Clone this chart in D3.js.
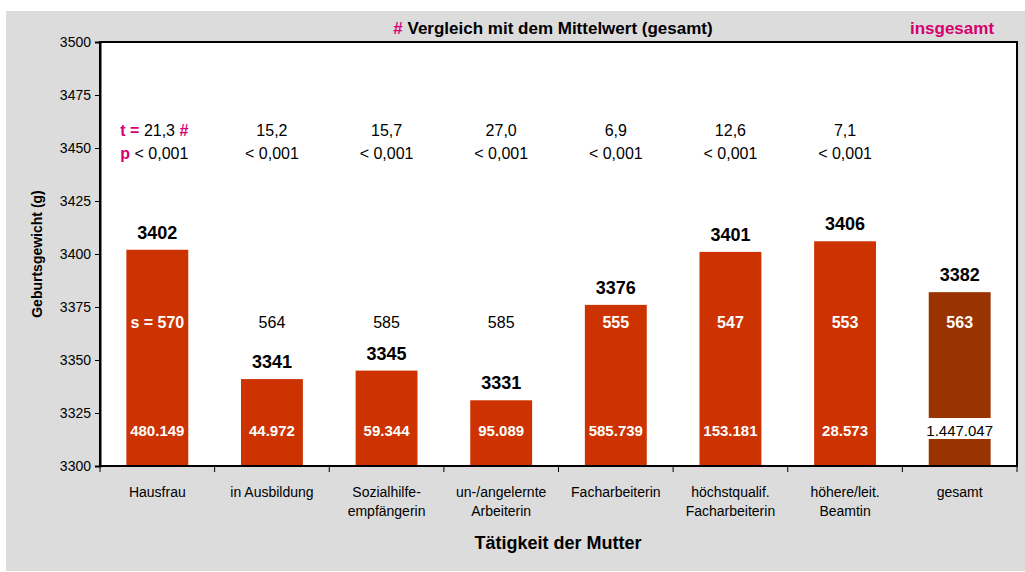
<!DOCTYPE html>
<html>
<head>
<meta charset="utf-8">
<script src="https://cdn.jsdelivr.net/npm/d3@7"></script>
<style>
  body { margin: 0; background: #fff; }
  text { font-family: "Liberation Sans", Arial, sans-serif; }
</style>
</head>
<body>
<div id="chart"></div>
<script>
// Chart data
var categories = [["Hausfrau"], ["in Ausbildung"], ["Sozialhilfe-", "empfängerin"], ["un-/angelernte", "Arbeiterin"],
  ["Facharbeiterin"], ["höchstqualif.", "Facharbeiterin"], ["höhere/leit.", "Beamtin"], ["gesamt"]];
var means = [3402, 3341, 3345, 3331, 3376, 3401, 3406, 3382];
var sds = ["570", "564", "585", "585", "555", "547", "553", "563"];
var counts = ["480.149", "44.972", "59.344", "95.089", "585.739", "153.181", "28.573", "1.447.047"];
var tValues = ["21,3", "15,2", "15,7", "27,0", "6,9", "12,6", "7,1"];
var pValues = ["< 0,001", "< 0,001", "< 0,001", "< 0,001", "< 0,001", "< 0,001", "< 0,001"];
var yTicks = [3300, 3325, 3350, 3375, 3400, 3425, 3450, 3475, 3500];

var svgWidth = 1025;
var svgHeight = 572;
var pink = "#d6006f";

var plot = { left: 100, top: 42, right: 1017, bottom: 466 };

var svg = d3.select("#chart").append("svg")
  .attr("width", svgWidth)
  .attr("height", svgHeight);

// grey background panel
svg.append("rect")
  .attr("x", 6).attr("y", 11)
  .attr("width", svgWidth - 6).attr("height", 560)
  .attr("fill", "#dcdcdc");

// plot area
svg.append("rect")
  .attr("x", plot.left).attr("y", plot.top)
  .attr("width", plot.right - plot.left).attr("height", plot.bottom - plot.top)
  .attr("fill", "#fff")
  .attr("stroke", "#000")
  .attr("stroke-width", 2);

var xScale = d3.scaleBand()
  .domain(d3.range(categories.length))
  .range([plot.left, plot.right])
  .paddingInner(0.46)
  .paddingOuter(0.23);

var yScale = d3.scaleLinear()
  .domain([3300, 3500])
  .range([plot.bottom, plot.top]);

// bars
svg.selectAll("rect.bar")
  .data(means)
  .enter()
  .append("rect")
  .attr("class", "bar")
  .attr("x", (d, i) => xScale(i))
  .attr("y", d => yScale(d))
  .attr("width", xScale.bandwidth())
  .attr("height", d => plot.bottom - yScale(d))
  .attr("fill", (d, i) => i === means.length - 1 ? "#993300" : "#cc3300");

// y axis
var leftAxis = d3.axisLeft(yScale).tickValues(yTicks).tickSize(5).tickPadding(4).tickFormat(d3.format("d"));
var yAxisG = svg.append("g")
  .attr("transform", `translate(${plot.left}, 0)`)
  .call(leftAxis);
yAxisG.select(".domain").attr("stroke-width", 2);
yAxisG.selectAll("text").attr("font-size", 14).attr("fill", "#000")
  .style("font-family", "'Liberation Sans', Arial, sans-serif");

// x axis ticks between categories
var borders = d3.range(categories.length + 1).map(i => plot.left + i * (plot.right - plot.left) / categories.length);
svg.append("line")
  .attr("x1", plot.left).attr("x2", plot.right)
  .attr("y1", plot.bottom).attr("y2", plot.bottom)
  .attr("stroke", "#000").attr("stroke-width", 2);
svg.selectAll("line.xtick")
  .data(borders)
  .enter()
  .append("line")
  .attr("class", "xtick")
  .attr("x1", d => d).attr("x2", d => d)
  .attr("y1", plot.bottom).attr("y2", plot.bottom + 6)
  .attr("stroke", "#000");

var cx = i => xScale(i) + xScale.bandwidth() / 2;

// x category labels
categories.forEach(function(lines, i) {
  lines.forEach(function(line, j) {
    svg.append("text")
      .attr("x", cx(i))
      .attr("y", 497 + j * 19)
      .attr("text-anchor", "middle")
      .attr("font-size", 14)
      .text(line);
  });
});

// mean labels above bars
svg.selectAll("text.mean")
  .data(means)
  .enter()
  .append("text")
  .attr("class", "mean")
  .attr("x", (d, i) => cx(i))
  .attr("y", d => yScale(d) - 11)
  .attr("text-anchor", "middle")
  .attr("font-size", 18)
  .attr("font-weight", "bold")
  .text(d => d);

// standard deviation labels
var sY = 328;
sds.forEach(function(s, i) {
  var inside = yScale(means[i]) < sY - 16;
  svg.append("text")
    .attr("x", cx(i))
    .attr("y", sY)
    .attr("text-anchor", "middle")
    .attr("font-size", 16)
    .attr("font-weight", inside ? "bold" : "normal")
    .attr("fill", inside ? "#fff" : "#000")
    .text(i === 0 ? "s = " + s : s);
});

// counts
var nY = 436;
counts.forEach(function(n, i) {
  var last = i === counts.length - 1;
  if (last) {
    svg.append("rect")
      .attr("x", cx(i) - 35).attr("y", 418)
      .attr("width", 70).attr("height", 21)
      .attr("fill", "#fff");
  }
  svg.append("text")
    .attr("x", cx(i))
    .attr("y", nY)
    .attr("text-anchor", "middle")
    .attr("font-size", 15)
    .attr("font-weight", last ? "normal" : "bold")
    .attr("fill", last ? "#000" : "#fff")
    .text(n);
});

// t and p rows
tValues.forEach(function(t, i) {
  var tText = svg.append("text")
    .attr("y", 136)
    .attr("font-size", 16);
  var pText = svg.append("text")
    .attr("y", 159)
    .attr("font-size", 16);
  if (i === 0) {
    var x0 = cx(i) - 37;
    tText.attr("x", x0);
    tText.append("tspan").attr("fill", pink).attr("font-weight", "bold").text("t = ");
    tText.append("tspan").text(t + " ");
    tText.append("tspan").attr("fill", pink).attr("font-weight", "bold").text("#");
    pText.attr("x", x0);
    pText.append("tspan").attr("fill", pink).attr("font-weight", "bold").text("p ");
    pText.append("tspan").text(pValues[i]);
  } else {
    tText.attr("x", cx(i)).attr("text-anchor", "middle").text(t);
    pText.attr("x", cx(i)).attr("text-anchor", "middle").text(pValues[i]);
  }
});

// header
var title = svg.append("text")
  .attr("x", 553)
  .attr("y", 34)
  .attr("text-anchor", "middle")
  .attr("font-size", 17)
  .attr("font-weight", "bold");
title.append("tspan").attr("fill", pink).text("# ");
title.append("tspan").text("Vergleich mit dem Mittelwert (gesamt)");

svg.append("text")
  .attr("x", 952)
  .attr("y", 34)
  .attr("text-anchor", "middle")
  .attr("font-size", 17)
  .attr("font-weight", "bold")
  .attr("fill", pink)
  .text("insgesamt");

// axis titles
svg.append("text")
  .attr("transform", "translate(42, 254) rotate(-90)")
  .attr("text-anchor", "middle")
  .attr("font-size", 14)
  .attr("font-weight", "bold")
  .text("Geburtsgewicht (g)");

svg.append("text")
  .attr("x", 558)
  .attr("y", 549)
  .attr("text-anchor", "middle")
  .attr("font-size", 18)
  .attr("font-weight", "bold")
  .text("Tätigkeit der Mutter");
</script>
</body>
</html>
